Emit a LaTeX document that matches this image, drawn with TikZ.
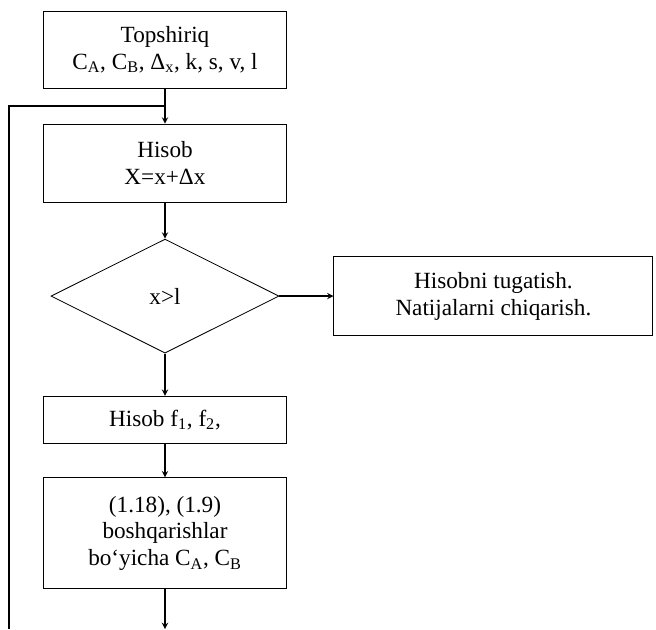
\documentclass[tikz,border=0pt]{standalone}
\usepackage{fontspec}
\setmainfont{Liberation Serif}
\usepackage{tikz}
\usetikzlibrary{shapes.geometric, arrows}
\tikzstyle{process} = [rectangle, minimum width=6.075cm, minimum height=1.95cm, text centered, draw=black, line width=0.6pt]
\tikzstyle{decision} = [diamond, aspect=2, minimum width=5.7cm, minimum height=2.85cm, inner sep=0pt, text centered, draw=black, line width=0.6pt]
\tikzstyle{arrow} = [line width=1pt,->,>=stealth]
\tikzstyle{line} = [line width=0.8pt]

\begin{document}
\begin{tikzpicture}[node distance=2.84cm, align=center, font=\fontsize{16.5}{19}\selectfont]
    \useasboundingbox (0,0) rectangle (16.4,-15.725);
    \node (task) [process, minimum height=1.925cm] at (4.125,-1.2375) {Topshiriq \\ C\textsubscript{A}, C\textsubscript{B}, Δ\textsubscript{x}, k, s, v, l};
    \node (calc) [process, below of=task] {Hisob \\ X=x+Δx};
    \node (check) [decision, below of=calc, yshift=-0.485cm] {x>l};
    \node (finish) [process, right of=check, xshift=5.37cm, minimum width=7.975cm, minimum height=1.975cm] {Hisobni tugatish. \\ Natijalarni chiqarish.};
    \node (calcf) [process, below of=check, yshift=-0.25cm, minimum height=1.175cm] {Hisob f\textsubscript{1}, f\textsubscript{2},};
    \node (control) [process, below of=calcf, minimum height=2.775cm] {(1.18), (1.9) \\ boshqarishlar \\ bo‘yicha C\textsubscript{A}, C\textsubscript{B}};
    \coordinate (out) at (4.125,-15.725);
    \coordinate (loopstart) at (0.225,-15.725);
    \coordinate (join) at (4.125,-2.65);

    \draw [arrow] (task) -- (calc);
    \draw [arrow] (calc) -- (check);
    \draw [arrow] (check.east) -- (finish);
    \draw [arrow] (check) -- (calcf);
    \draw [arrow] (calcf) -- (control);
    \draw [arrow] (control) -- (out);
    \draw [line] (loopstart) |- (join);
\end{tikzpicture}
\end{document}
